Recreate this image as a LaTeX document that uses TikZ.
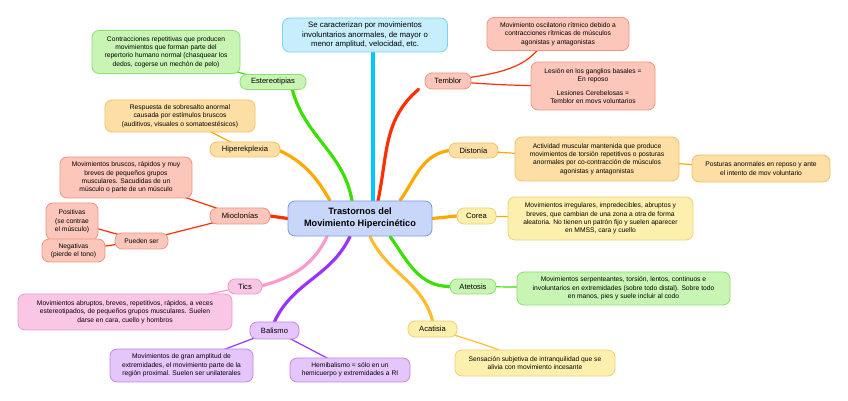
\documentclass[tikz,border=0pt]{standalone}
\usepackage{fontspec}
\setmainfont{Liberation Sans}
\usetikzlibrary{backgrounds}
\definecolor{grF}{HTML}{C8F5B4}\definecolor{grD}{HTML}{8EDE6E}\definecolor{grL}{HTML}{3CE000}
\definecolor{orF}{HTML}{FDDFA5}\definecolor{orD}{HTML}{F3C064}\definecolor{orL}{HTML}{FFA800}
\definecolor{saF}{HTML}{FCC7BA}\definecolor{saD}{HTML}{F09484}\definecolor{saL}{HTML}{FF3000}
\definecolor{piF}{HTML}{FAC6E6}\definecolor{piD}{HTML}{EE99CC}\definecolor{piL}{HTML}{FF99CC}
\definecolor{puF}{HTML}{E6C6FA}\definecolor{puD}{HTML}{BB88EE}\definecolor{puL}{HTML}{9933FF}
\definecolor{yeF}{HTML}{FDF0AE}\definecolor{yeD}{HTML}{EED070}\definecolor{yeL}{HTML}{FFBB33}
\definecolor{cyF}{HTML}{C6EEFC}\definecolor{cyD}{HTML}{80D0F0}\definecolor{cyL}{HTML}{00C8FF}
\definecolor{blF}{HTML}{C8D6FA}\definecolor{blD}{HTML}{7799EE}
\tikzset{
  box/.style={draw, rounded corners=7pt, line width=0.8pt, align=center, inner sep=1pt},
  lbl/.style={box, font=\fontsize{7.6}{9}\selectfont},
  txt/.style={box, font=\fontsize{6.7}{8.4}\selectfont},
  gr/.style={fill=grF, draw=grD}, ora/.style={fill=orF, draw=orD},
  sa/.style={fill=saF, draw=saD}, pi/.style={fill=piF, draw=piD},
  pu/.style={fill=puF, draw=puD}, ye/.style={fill=yeF, draw=yeD},
  cy/.style={fill=cyF, draw=cyD},
  trunk/.style={line width=3.2pt, line cap=round},
  twig/.style={line width=1.2pt}
}
\begin{document}
\begin{tikzpicture}[x=1pt,y=1pt]
\useasboundingbox (0,0) rectangle (848,401);
% central
\node[box, fill=blF, draw=blD, font=\fontsize{9.2}{12}\bfseries, minimum width=144pt, minimum height=35pt] (c) at (360,182.5) {Trastornos del\\Movimiento Hipercinético};
% top
\node[box, cy, font=\fontsize{7.8}{9.6}\selectfont, minimum width=165pt, minimum height=34pt] (top) at (365,366) {Se caracterizan por movimientos\\involuntarios anormales, de mayor o\\menor amplitud, velocidad, etc.};
% Estereotipias
\node[lbl, gr, minimum width=66pt, minimum height=15pt] (est) at (273,319) {Estereotipias};
\node[txt, gr, minimum width=148pt, minimum height=43pt] (estt) at (166,349) {Contracciones repetitivas que producen\\movimientos que forman parte del\\repertorio humano normal (chasquear los\\dedos, cogerse un mechón de pelo)};
% Hiperekplexia
\node[lbl, ora, minimum width=70pt, minimum height=15pt] (hip) at (245,251.5) {Hiperekplexia};
\node[txt, ora, minimum width=150pt, minimum height=32pt] (hipt) at (180,285) {Respuesta de sobresalto anormal\\causada por estímulos bruscos\\(auditivos, visuales o somatoestésicos)};
% Mioclonias
\node[lbl, sa, minimum width=60pt, minimum height=16pt] (mio) at (240,185) {Mioclonías};
\node[txt, sa, minimum width=132pt, minimum height=41pt] (miot) at (126,223.5) {Movimientos bruscos, rápidos y muy\\breves de pequeños grupos\\musculares. Sacudidas de un\\músculo o parte de un músculo};
\node[txt, sa, minimum width=53pt, minimum height=16pt] (pue) at (141.5,160) {Pueden ser};
\node[txt, sa, minimum width=52pt, minimum height=37pt] (pos) at (72,179.5) {Positivas\\(se contrae\\el músculo)};
\node[txt, sa, minimum width=63pt, minimum height=23pt] (neg) at (73.5,150.5) {Negativas\\(pierde el tono)};
% Tics
\node[lbl, pi, minimum width=34pt, minimum height=15pt] (tic) at (245,114.5) {Tics};
\node[txt, pi, minimum width=214pt, minimum height=36pt] (tict) at (125,89) {Movimientos abruptos, breves, repetitivos, rápidos, a veces\\estereotipados, de pequeños grupos musculares. Suelen\\darse en cara, cuello y hombros};
% Balismo
\node[lbl, pu, minimum width=49pt, minimum height=17pt] (bal) at (274.5,70.5) {Balismo};
\node[txt, pu, minimum width=143pt, minimum height=33pt] (ball) at (181.5,35.5) {Movimientos de gran amplitud de\\extremidades, el movimiento parte de la\\región proximal. Suelen ser unilaterales};
\node[txt, pu, minimum width=120pt, minimum height=24pt] (balr) at (350,31) {Hemibalismo = sólo en un\\hemicuerpo y extremidades a RI};
% Acatisia
\node[lbl, ye, minimum width=49pt, minimum height=16pt] (aca) at (432.5,72) {Acatisia};
\node[txt, ye, minimum width=160pt, minimum height=26pt] (acat) at (535,38) {Sensación subjetiva de intranquilidad que se\\alivia con movimiento incesante};
% Atetosis
\node[lbl, gr, minimum width=46pt, minimum height=15pt] (ate) at (473,114.5) {Atetosis};
\node[txt, gr, minimum width=213pt, minimum height=33pt] (atet) at (623.5,112.5) {Movimientos serpenteantes, torsión, lentos, continuos e\\involuntarios en extremidades (sobre todo distal). Sobre todo\\en manos, pies y suele incluir al codo};
% Corea
\node[lbl, ye, minimum width=39pt, minimum height=16pt] (cor) at (476.5,185) {Corea};
\node[txt, ye, minimum width=185pt, minimum height=43pt] (cort) at (600.5,182.5) {Movimientos irregulares, impredecibles, abruptos y\\breves, que cambian de una zona a otra de forma\\aleatoria. No tienen un patrón fijo y suelen aparecer\\en MMSS, cara y cuello};
% Distonia
\node[lbl, ora, minimum width=49pt, minimum height=15pt] (dis) at (473.5,250.5) {Distonía};
\node[txt, ora, minimum width=164pt, minimum height=44pt] (dist) at (597,242) {Actividad muscular mantenida que produce\\movimientos de torsión repetitivos o posturas\\anormales por co-contracción de músculos\\agonistas y antagonistas};
\node[txt, ora, minimum width=138pt, minimum height=27pt] (disr) at (761,232.5) {Posturas anormales en reposo y ante\\el intento de mov voluntario};
% Temblor
\node[lbl, sa, minimum width=46pt, minimum height=16pt] (tem) at (448,320) {Temblor};
\node[txt, sa, minimum width=142pt, minimum height=33pt] (temt) at (558,367) {Movimiento oscilatorio rítmico debido a\\contracciones rítmicas de músculos\\agonistas y antagonistas};
\node[txt, sa, minimum width=124pt, minimum height=48pt] (temr) at (593,315) {Lesión en los ganglios basales =\\En reposo\\[5pt]Lesiones Cerebelosas =\\Temblor en movs voluntarios};
% anchor coordinates on central node
\coordinate (sHip) at ([xshift=-30pt]c.north);
\coordinate (sEst) at ([xshift=-8pt]c.north);
\coordinate (sCy) at ([xshift=13pt]c.north);
\coordinate (sTem) at ([xshift=18pt]c.north);
\coordinate (sDis) at ([xshift=40pt]c.north);
\coordinate (sTic) at ([xshift=-33pt]c.south);
\coordinate (sBal) at ([xshift=-10pt]c.south);
\coordinate (sAca) at ([xshift=10pt]c.south);
\coordinate (sAte) at ([xshift=30pt]c.south);
\begin{pgfonlayer}{background}
  \fill[white] (0,0) rectangle (848,401);
  \draw[trunk, cyL] (sCy) -- ([xshift=8pt]top.south);
  \draw[trunk, saL] (sTem) to[out=78, in=-140] ([xshift=-6pt]tem.south west);
  \draw[trunk, orL] (sDis) to[out=55, in=190] (dis.west);
  \draw[trunk, orL] (c.east) -- (cor.west);
  \draw[trunk, grL] (sAte) to[out=-55, in=180] (ate.west);
  \draw[trunk, yeL] (sAca) to[out=-65, in=105] (aca.north);
  \draw[trunk, puL] (sBal) to[out=-115, in=65] (bal.north);
  \draw[trunk, piL] (sTic) to[out=-115, in=15] ([xshift=-3pt]tic.east);
  \draw[trunk, saL] (c.west) -- (mio.east);
  \draw[trunk, orL] (sHip) to[out=120, in=-25] ([xshift=-3pt]hip.east);
  \draw[trunk, grL] (sEst) to[out=100, in=-75] ([xshift=-14pt]est.south east);
  % twigs
  \draw[twig, grL] (est.center) -- (estt.center);
  \draw[twig, orL] (hip.center) -- (hipt.center);
  \draw[twig, saL] (mio.center) -- (miot.center);
  \draw[twig, saL] (mio.center) -- (pue.center);
  \draw[twig, saL] (pue.center) -- (pos.center);
  \draw[twig, saL] (pue.center) -- (neg.center);
  \draw[twig, piL] (tic.center) -- (tict.center);
  \draw[twig, puL] (bal.center) -- (ball.center);
  \draw[twig, puL] (bal.center) -- (balr.center);
  \draw[twig, yeL] (aca.center) to[out=-15, in=160] (acat.center);
  \draw[twig, grL] (ate.center) -- (atet.center);
  \draw[twig, orL] (cor.center) -- (cort.center);
  \draw[twig, orL] (dis.center) -- (dist.center);
  \draw[twig, orL] (dist.center) -- (disr.center);
  \draw[twig, saL] (tem.center) to[out=10, in=-115] ([xshift=-10pt]temt.center);
  \draw[twig, saL] (tem.center) to[out=-5, in=180] (temr.center);
\end{pgfonlayer}
\end{tikzpicture}
\end{document}
